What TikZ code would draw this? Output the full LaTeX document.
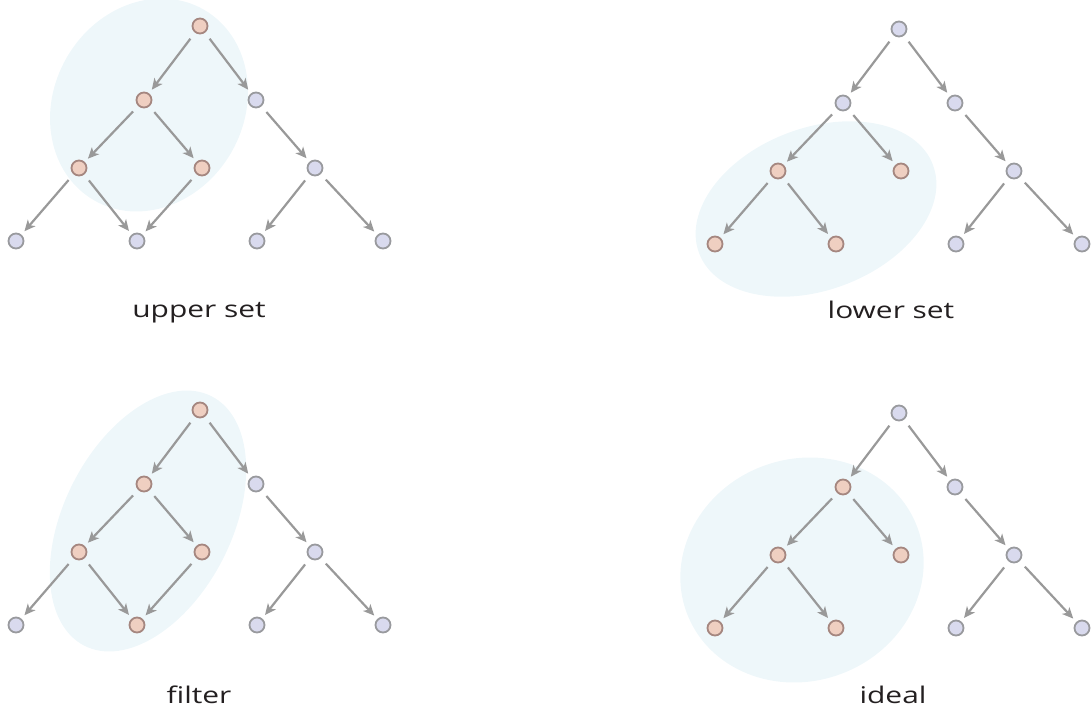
\documentclass[tikz,border=0pt]{standalone}
\usepackage{fontspec}
\usetikzlibrary{arrows.meta}
\newfontfamily\labelfont[FakeStretch=1.3]{Open Sans}
\definecolor{zonefill}{HTML}{EEF7FA}
\definecolor{arrowgrey}{HTML}{999999}
\definecolor{pinkfill}{HTML}{EFCFC1}
\definecolor{pinkline}{HTML}{A58780}
\definecolor{bluefill}{HTML}{D9DAEE}
\definecolor{blueline}{HTML}{999A9E}
\definecolor{labeltext}{HTML}{231F20}

\begin{document}
\begin{tikzpicture}[x=1pt, y=-1pt,
    lit/.style={circle, minimum size=15pt, inner sep=0pt, line width=1.8pt, draw=pinkline, fill=pinkfill},
    dim/.style={circle, minimum size=15pt, inner sep=0pt, line width=1.8pt, draw=blueline, fill=bluefill},
    edge/.style={draw=arrowgrey, line width=2.2pt, shorten <=7.5pt, shorten >=4.5pt,
      -{Stealth[length=11pt, width=10pt, inset=3pt]}},
    zone/.style={fill=zonefill},
    caption/.style={anchor=base, text=labeltext, font=\labelfont\fontsize{23}{28}\selectfont}]
  \useasboundingbox (0,0) rectangle (1092,713);

  % shaded sets
  \fill[zone, rotate around={60:(149,105)}] (149,105) ellipse [x radius=110, y radius=95];
  \fill[zone, rotate around={20.7:(816,209)}] (816,209) ellipse [x radius=125, y radius=81];
  \fill[zone, rotate around={63:(148,521)}] (148,521) ellipse [x radius=140, y radius=84];
  \fill[zone, rotate around={20:(802,570)}] (802,570) ellipse [x radius=123, y radius=111];

  % same poset four times
  \foreach \p/\x/\y in {ul/200/26, ur/899/29, ll/200/410, lr/899/413}
    \foreach \n/\dx/\dy in {t/0/0, a/-56/74, b/56/74, c/-121/142, d/2/142, e/115/142,
                            f/-184/215, g/-63/215, h/57/215, k/183/215}
      \coordinate (\p\n) at (\x+\dx, \y+\dy);

  \foreach \n in {ult, ula, ulc, uld, urc, urd, urf, urg,
                  llt, lla, llc, lld, llg, lra, lrc, lrd, lrf, lrg}
    \node[lit] (\n) at (\n) {};
  \foreach \n in {ulb, ule, ulf, ulg, ulh, ulk, urt, ura, urb, ure, urh, urk,
                  llb, lle, llf, llh, llk, lrt, lrb, lre, lrh, lrk}
    \node[dim] (\n) at (\n) {};

  \foreach \p in {ul, ur, ll, lr}
    \foreach \s/\t in {t/a, t/b, a/c, a/d, b/e, c/f, c/g, e/h, e/k}
      \draw[edge] (\p\s) -- (\p\t);
  \foreach \p in {ul, ll}
    \draw[edge] (\p d) -- (\p g);

  % captions
  \node[caption] (upperlabel) at (199,317) {upper set};
  \node[caption] (lowerlabel) at (891,318) {lower set};
  \node[caption] (filterlabel) at (199,703) {filter};
  \node[caption] (ideallabel) at (893,703) {ideal};
\end{tikzpicture}
\end{document}
